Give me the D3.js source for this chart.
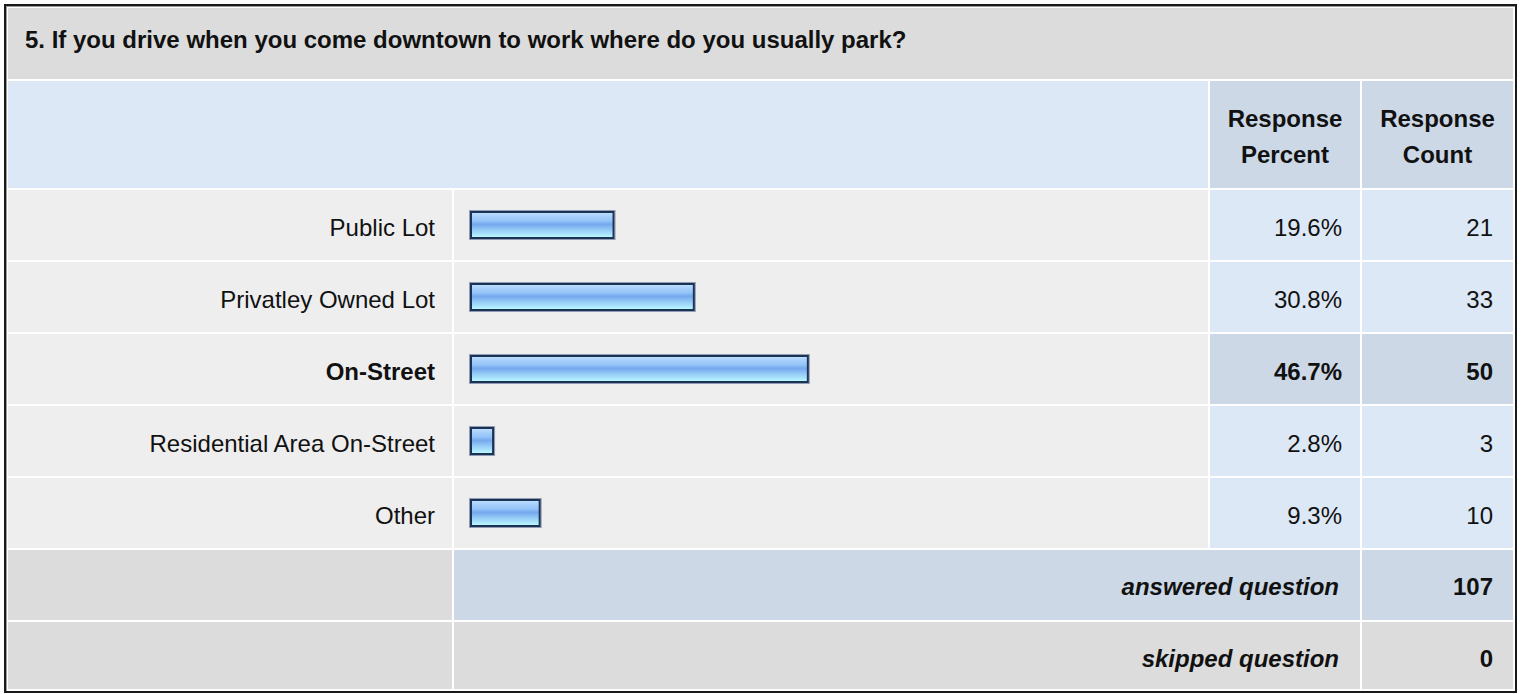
<!DOCTYPE html>
<html>
<head>
<meta charset="utf-8">
<script src="https://cdn.jsdelivr.net/npm/d3@7"></script>
<style>
  html, body { margin: 0; padding: 0; background: #ffffff; }
  svg { display: block; }
  text { font-family: Arial, "Liberation Sans", sans-serif; fill: #111; }
</style>
</head>
<body>
<svg id="chart" width="1521" height="694"></svg>
<script>
// ---- data ----
const title = "5. If you drive when you come downtown to work where do you usually park?";
const headerLabels = [["Response", "Percent"], ["Response", "Count"]];
const categories = ["Public Lot", "Privatley Owned Lot", "On-Street", "Residential Area On-Street", "Other"];
const percents = [19.6, 30.8, 46.7, 2.8, 9.3];
const counts = [21, 33, 50, 3, 10];
const summaryLabels = ["answered question", "skipped question"];
const summaryValues = [107, 0];

// ---- layout ----
const svg = d3.select("#chart");
const colLabel = [8, 452], colBar = [454, 1208], colPct = [1210, 1360], colCnt = [1362, 1513];
const GRAY = "#dcdcdc", LIGHT = "#eeeeee", BLUE = "#dce8f5", BLUE2 = "#ccd8e6";

const maxIdx = percents.indexOf(d3.max(percents));

const y = d3.scaleBand()
  .domain(categories)
  .range([189, 189 + 72 * categories.length])
  .paddingInner(2 / 72)
  .paddingOuter(1 / 72);

const x = d3.scaleLinear().domain([0, 100]).range([0, 717]);

const defs = svg.append("defs");
const grad = defs.append("linearGradient").attr("id", "barGrad")
  .attr("x1", 0).attr("y1", 0).attr("x2", 0).attr("y2", 1);
[[0, "#c4e3ff"], [0.15, "#a9d1fc"], [0.35, "#92c3f7"], [0.47, "#74a7ee"],
 [0.6, "#88bdf3"], [0.8, "#a4dbfa"], [1, "#bcffff"]].forEach(([o, c]) =>
  grad.append("stop").attr("offset", o).attr("stop-color", c));

function cell(x0, x1, y0, y1, fill) {
  svg.append("rect").attr("x", x0).attr("y", y0)
    .attr("width", x1 - x0).attr("height", y1 - y0).attr("fill", fill);
}

// outer frame
svg.append("rect").attr("x", 5).attr("y", 5).attr("width", 1511).attr("height", 687)
  .attr("fill", "#ffffff").attr("stroke", "#1a1a1a").attr("stroke-width", 2);
svg.append("line").attr("x1", 6).attr("y1", 6.5).attr("x2", 1515).attr("y2", 6.5)
  .attr("stroke", "#9a9a9a").attr("stroke-width", 1);
svg.append("line").attr("x1", 6.5).attr("y1", 6).attr("x2", 6.5).attr("y2", 691)
  .attr("stroke", "#9a9a9a").attr("stroke-width", 1);

// title row
cell(8, 1513, 8, 79, GRAY);
svg.append("text").attr("x", 25).attr("y", 48)
  .attr("font-size", 24).attr("font-weight", "bold").text(title);

// header row
cell(8, 1208, 81, 188, BLUE);
[colPct, colCnt].forEach((c, i) => {
  cell(c[0], c[1], 81, 188, BLUE2);
  const cx = (c[0] + c[1]) / 2;
  headerLabels[i].forEach((t, j) => {
    svg.append("text").attr("x", cx).attr("y", 127 + j * 36)
      .attr("text-anchor", "middle").attr("font-size", 24).attr("font-weight", "bold").text(t);
  });
});

// data rows
const rows = svg.append("g").selectAll("g").data(categories).join("g");
rows.each(function (d, i) {
  const g = d3.select(this);
  const y0 = y(d), y1 = y(d) + y.bandwidth();
  const hi = i === maxIdx;
  [[colLabel, LIGHT], [colBar, LIGHT], [colPct, hi ? BLUE2 : BLUE], [colCnt, hi ? BLUE2 : BLUE]]
    .forEach(([c, f]) => g.append("rect").attr("x", c[0]).attr("y", y0)
      .attr("width", c[1] - c[0]).attr("height", y1 - y0).attr("fill", f));
  const base = y0 + 46;
  const fw = hi ? "bold" : "normal";
  g.append("text").attr("x", 435).attr("y", base).attr("text-anchor", "end")
    .attr("font-size", 24).attr("font-weight", fw).text(d);
  g.append("text").attr("x", 1342).attr("y", base).attr("text-anchor", "end")
    .attr("font-size", 24).attr("font-weight", fw).text(percents[i].toFixed(1) + "%");
  g.append("text").attr("x", 1493).attr("y", base).attr("text-anchor", "end")
    .attr("font-size", 24).attr("font-weight", fw).text(counts[i]);
  const cy = y0 + y.bandwidth() / 2;
  // soft outer halo
  g.append("rect").attr("x", 469.5).attr("y", cy - 14.5)
    .attr("width", x(percents[i]) + 5).attr("height", 29)
    .attr("fill", "none").attr("stroke", "#8e9cb4").attr("stroke-width", 1);
  g.append("rect").attr("x", 471).attr("y", cy - 13)
    .attr("width", x(percents[i]) + 2).attr("height", 26)
    .attr("fill", "url(#barGrad)").attr("stroke", "#1c3356").attr("stroke-width", 2);
});

// summary rows
const sumTop = [550, 622], sumBot = [620, 689];
summaryLabels.forEach((lab, i) => {
  const y0 = sumTop[i], y1 = sumBot[i];
  cell(colLabel[0], colLabel[1], y0, y1, GRAY);
  cell(colBar[0], colPct[1], y0, y1, i === 0 ? BLUE2 : GRAY);
  cell(colCnt[0], colCnt[1], y0, y1, i === 0 ? BLUE2 : GRAY);
  svg.append("text").attr("x", 1339).attr("y", y0 + 45).attr("text-anchor", "end")
    .attr("font-size", 24).attr("font-weight", "bold").attr("font-style", "italic").text(lab);
  svg.append("text").attr("x", 1493).attr("y", y0 + 45).attr("text-anchor", "end")
    .attr("font-size", 24).attr("font-weight", "bold").text(summaryValues[i]);
});
</script>
</body>
</html>
